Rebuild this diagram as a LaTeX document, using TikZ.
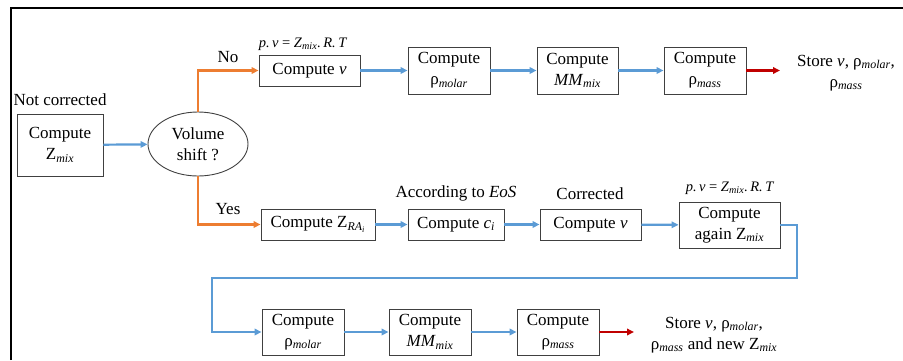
\documentclass[tikz,border=0pt]{standalone}
\usepackage{fontspec}
\setmainfont{LiberationSerif}[Extension=.ttf, UprightFont=*-Regular, ItalicFont=*-Italic, BoldFont=*-Bold, BoldItalicFont=*-BoldItalic]
\usetikzlibrary{arrows.meta,shapes.geometric}
\definecolor{flowblue}{HTML}{5B9BD5}
\definecolor{floworange}{HTML}{ED7D31}
\definecolor{flowred}{HTML}{C00000}
\definecolor{boxline}{HTML}{404040}
% italic subscript in the text font
\newcommand{\sbi}[1]{\textsubscript{\itshape #1}}
\newcommand{\eqlabel}{\textit{p.\,v} = \textit{Z}\sbi{mix}\textit{.\,R.\,T}}

\begin{document}
\begin{tikzpicture}[x=1pt,y=-1pt,
  every node/.style={font=\rmfamily\fontsize{17}{21}\selectfont},
  stepbox/.style={draw=boxline, line width=0.9pt, align=center, inner sep=0pt},
  small/.style={font=\rmfamily\fontsize{14.5}{16}\selectfont},
  flowline/.style={line width=2.2pt, -{Triangle[length=7pt,width=6.5pt]}},
  flowb/.style={flowline, draw=flowblue},
  flowo/.style={flowline, draw=floworange},
  flowr/.style={flowline, draw=flowred}]

\useasboundingbox (0,0) rectangle (903,360);

% frame
\draw[line width=1.8pt] (11,360) -- (11,8) -- (903,8);

% start and decision
\node[stepbox, minimum width=86, minimum height=62] (zmix) at (60,145) {Compute\\Z\sbi{mix}};
\node at (60,100) {Not corrected};
\node[draw=boxline, line width=0.9pt, ellipse, minimum width=100, minimum height=64, inner sep=0pt, align=center] (shift) at (198,144) {Volume\\shift ?};

% upper branch: no volume shift
\node[stepbox, minimum width=101, minimum height=31] (cv) at (309.5,70.5) {Compute \textit{v}};
\node[small] at (303,44) {\eqlabel};
\node[stepbox, minimum width=82, minimum height=47] (rmol) at (449,70.5) {Compute\\ρ\sbi{molar}};
\node[stepbox, minimum width=81, minimum height=47] (mm) at (577.5,70.5) {Compute\\\textit{MM}\sbi{mix}};
\node[stepbox, minimum width=82, minimum height=47] (rmass) at (705,70.5) {Compute\\ρ\sbi{mass}};
\coordinate (end1) at (780,70.5);
\node[align=center] at (846,73) {Store \textit{v}, ρ\sbi{molar},\\ρ\sbi{mass}};
\node at (228,57) {No};

% lower branch: volume shift applied
\node[stepbox, minimum width=114, minimum height=31] (zra) at (318,224.5) {Compute Z\sbi{RA\textsubscript{i}}};
\node[stepbox, minimum width=96, minimum height=31] (ci) at (456,224.5) {Compute \textit{c}\sbi{i}};
\node at (456,193) {According to \textit{EoS}};
\node[stepbox, minimum width=101, minimum height=31] (cv2) at (590.5,224.5) {Compute \textit{v}};
\node at (590,194) {Corrected};
\node[stepbox, minimum width=101, minimum height=46] (again) at (729.5,225) {Compute\\again Z\sbi{mix}};
\node[small] at (730,188) {\eqlabel};
\node at (228,209) {Yes};

\node[stepbox, minimum width=82, minimum height=46] (rmol2) at (303,332) {Compute\\ρ\sbi{molar}};
\node[stepbox, minimum width=82, minimum height=46] (mm2) at (430,332) {Compute\\\textit{MM}\sbi{mix}};
\node[stepbox, minimum width=82, minimum height=46] (rmass2) at (558,332) {Compute\\ρ\sbi{mass}};
\coordinate (end2) at (634,332);
\node[align=center] at (714,335) {Store \textit{v}, ρ\sbi{molar},\\ρ\sbi{mass} and new Z\sbi{mix}};

% connectors
\draw[flowb] (zmix) -- (shift);
\draw[flowo] (shift.north) |- (cv.west);
\draw[flowo] (shift.south) |- (zra.west);
\draw[flowb] (cv) -- (rmol);
\draw[flowb] (rmol) -- (mm);
\draw[flowb] (mm) -- (rmass);
\draw[flowr] (rmass) -- (end1);
\draw[flowb] (zra) -- (ci);
\draw[flowb] (ci) -- (cv2);
\draw[flowb] (cv2) -- (again);
\coordinate (turnR) at (797,278);
\coordinate (turnL) at (212,278);
\draw[flowb] (again.east) -| (turnR) -- (turnL) |- (rmol2.west);
\draw[flowb] (rmol2) -- (mm2);
\draw[flowb] (mm2) -- (rmass2);
\draw[flowr] (rmass2) -- (end2);
\end{tikzpicture}
\end{document}
